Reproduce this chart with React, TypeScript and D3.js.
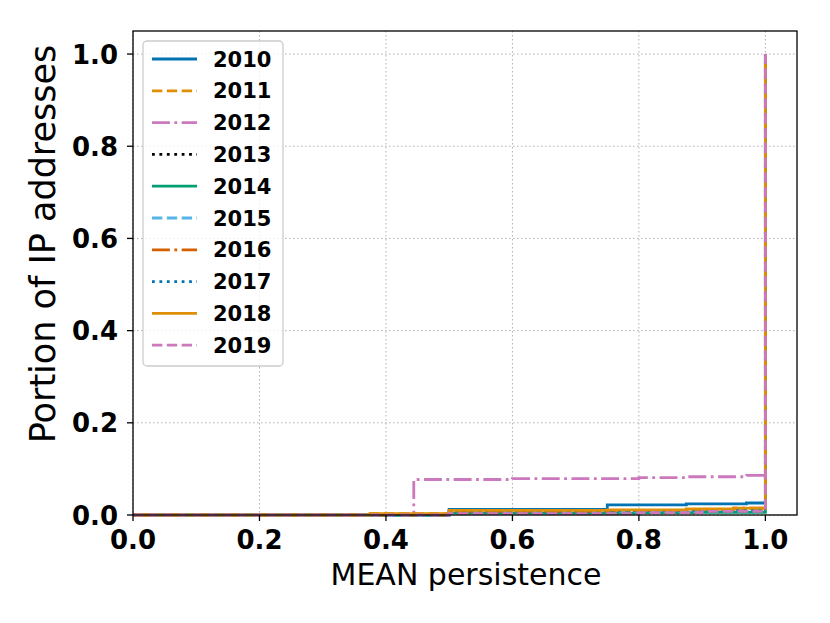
import React from "react";
import * as d3 from "d3";

const years = ["2010", "2011", "2012", "2013", "2014", "2015", "2016", "2017", "2018", "2019"];
const colors = ["#0173b2", "#de8f05", "#cc78bc", "#000000", "#029e73", "#56b4e9", "#d55e00", "#0173b2", "#de8f05", "#cc78bc"];
const styles = ["solid", "dashed", "dashdot", "dotted", "solid", "dashed", "dashdot", "dotted", "solid", "dashed"];

// step-after points [persistence, cumulative portion]
const s2010: [number, number][] = [[0, 0], [0.5, 0.012], [0.75, 0.022], [0.875, 0.024], [0.97, 0.026], [1, 1]];
const s2011: [number, number][] = [[0, 0], [0.375, 0.003], [0.5, 0.009], [0.75, 0.01], [0.875, 0.012], [0.95, 0.014], [1, 1]];
const s2012: [number, number][] = [[0, 0], [0.444, 0.077], [0.6, 0.079], [0.8, 0.081], [0.875, 0.083], [0.97, 0.086], [1, 1]];
const s2013: [number, number][] = [[0, 0], [0.5, 0.005], [0.75, 0.006], [0.9, 0.008], [1, 1]];
const s2014: [number, number][] = [[0, 0], [0.5, 0.004], [0.8, 0.005], [0.9, 0.006], [1, 1]];
const s2015: [number, number][] = [[0, 0], [0.5, 0.007], [0.75, 0.008], [0.9, 0.01], [1, 1]];
const s2016: [number, number][] = [[0, 0], [0.5, 0.008], [0.75, 0.01], [0.875, 0.012], [0.95, 0.015], [1, 1]];
const s2017: [number, number][] = [[0, 0], [0.5, 0.009], [0.75, 0.01], [0.9, 0.011], [1, 1]];
const s2018: [number, number][] = [[0, 0], [0.375, 0.003], [0.5, 0.01], [0.75, 0.011], [0.875, 0.013], [0.95, 0.015], [1, 1]];
const s2019: [number, number][] = [[0, 0], [0.5, 0.003], [0.8, 0.005], [0.9, 0.008], [1, 1]];
const series = [s2010, s2011, s2012, s2013, s2014, s2015, s2016, s2017, s2018, s2019];

const xTicks = [0, 0.2, 0.4, 0.6, 0.8, 1.0];
const yTicks = [0, 0.2, 0.4, 0.6, 0.8, 1.0];

const LW = 2.8;
function dash(style: string): string | undefined {
  if (style === "dashed") return `${3.7 * LW},${1.6 * LW}`;
  if (style === "dashdot") return `${6.4 * LW},${1.6 * LW},${1 * LW},${1.6 * LW}`;
  if (style === "dotted") return `${1 * LW},${1.65 * LW}`;
  return undefined;
}

export default function App() {
  const W = 830, H = 623;
  const left = 133, right = 797, top = 31, bottom = 515;
  const x = d3.scaleLinear().domain([0, 1.05]).range([left, right]);
  const y = d3.scaleLinear().domain([0, 1.05]).range([bottom, top]);
  const line = d3.line<[number, number]>().x(d => x(d[0])).y(d => y(d[1])).curve(d3.curveStepAfter);
  const font = "DejaVu Sans";
  return (
    <svg width={W} height={H} style={{ position: "absolute", left: 0, top: 0, background: "#fff" }} fontFamily={font}>
      <rect x={0} y={0} width={W} height={H} fill="#fff" />
      {xTicks.map(t => (
        <line key={"gx" + t} x1={x(t)} x2={x(t)} y1={top} y2={bottom} stroke="#b0b0b0" strokeWidth={1} strokeDasharray="1.5,2.5" />
      ))}
      {yTicks.map(t => (
        <line key={"gy" + t} x1={left} x2={right} y1={y(t)} y2={y(t)} stroke="#b0b0b0" strokeWidth={1} strokeDasharray="1.5,2.5" />
      ))}
      {series.map((s, i) => (
        <path key={years[i]} d={line(s) || ""} fill="none" stroke={colors[i]} strokeWidth={LW} strokeDasharray={dash(styles[i])} />
      ))}
      <rect x={left} y={top} width={right - left} height={bottom - top} fill="none" stroke="#000" strokeWidth={1.3} />
      {xTicks.map(t => (
        <g key={"tx" + t}>
          <line x1={x(t)} x2={x(t)} y1={bottom} y2={bottom + 6} stroke="#000" strokeWidth={1.3} />
          <text x={x(t)} y={549} textAnchor="middle" fontSize={26} fontWeight="bold">{t.toFixed(1)}</text>
        </g>
      ))}
      {yTicks.map(t => (
        <g key={"ty" + t}>
          <line x1={left - 6} x2={left} y1={y(t)} y2={y(t)} stroke="#000" strokeWidth={1.3} />
          <text x={118} y={y(t) + 9.5} textAnchor="end" fontSize={26} fontWeight="bold">{t.toFixed(1)}</text>
        </g>
      ))}
      <text x={466} y={585} textAnchor="middle" fontSize={30}>MEAN persistence</text>
      <text transform={`translate(55,244) rotate(-90)`} textAnchor="middle" fontSize={35}>Portion of IP addresses</text>
      <g>
        <rect x={143} y={41} width={140} height={325} rx={4} fill="#fff" fillOpacity={0.8} stroke="#cccccc" strokeWidth={1.3} />
        {years.map((yr, i) => {
          const cy = 59 + i * 31.8;
          return (
            <g key={"lg" + yr}>
              <line x1={152} x2={197} y1={cy} y2={cy} stroke={colors[i]} strokeWidth={LW} strokeDasharray={dash(styles[i])} />
              <text x={213} y={cy + 7.5} fontSize={21} fontWeight="bold">{yr}</text>
            </g>
          );
        })}
      </g>
    </svg>
  );
}
